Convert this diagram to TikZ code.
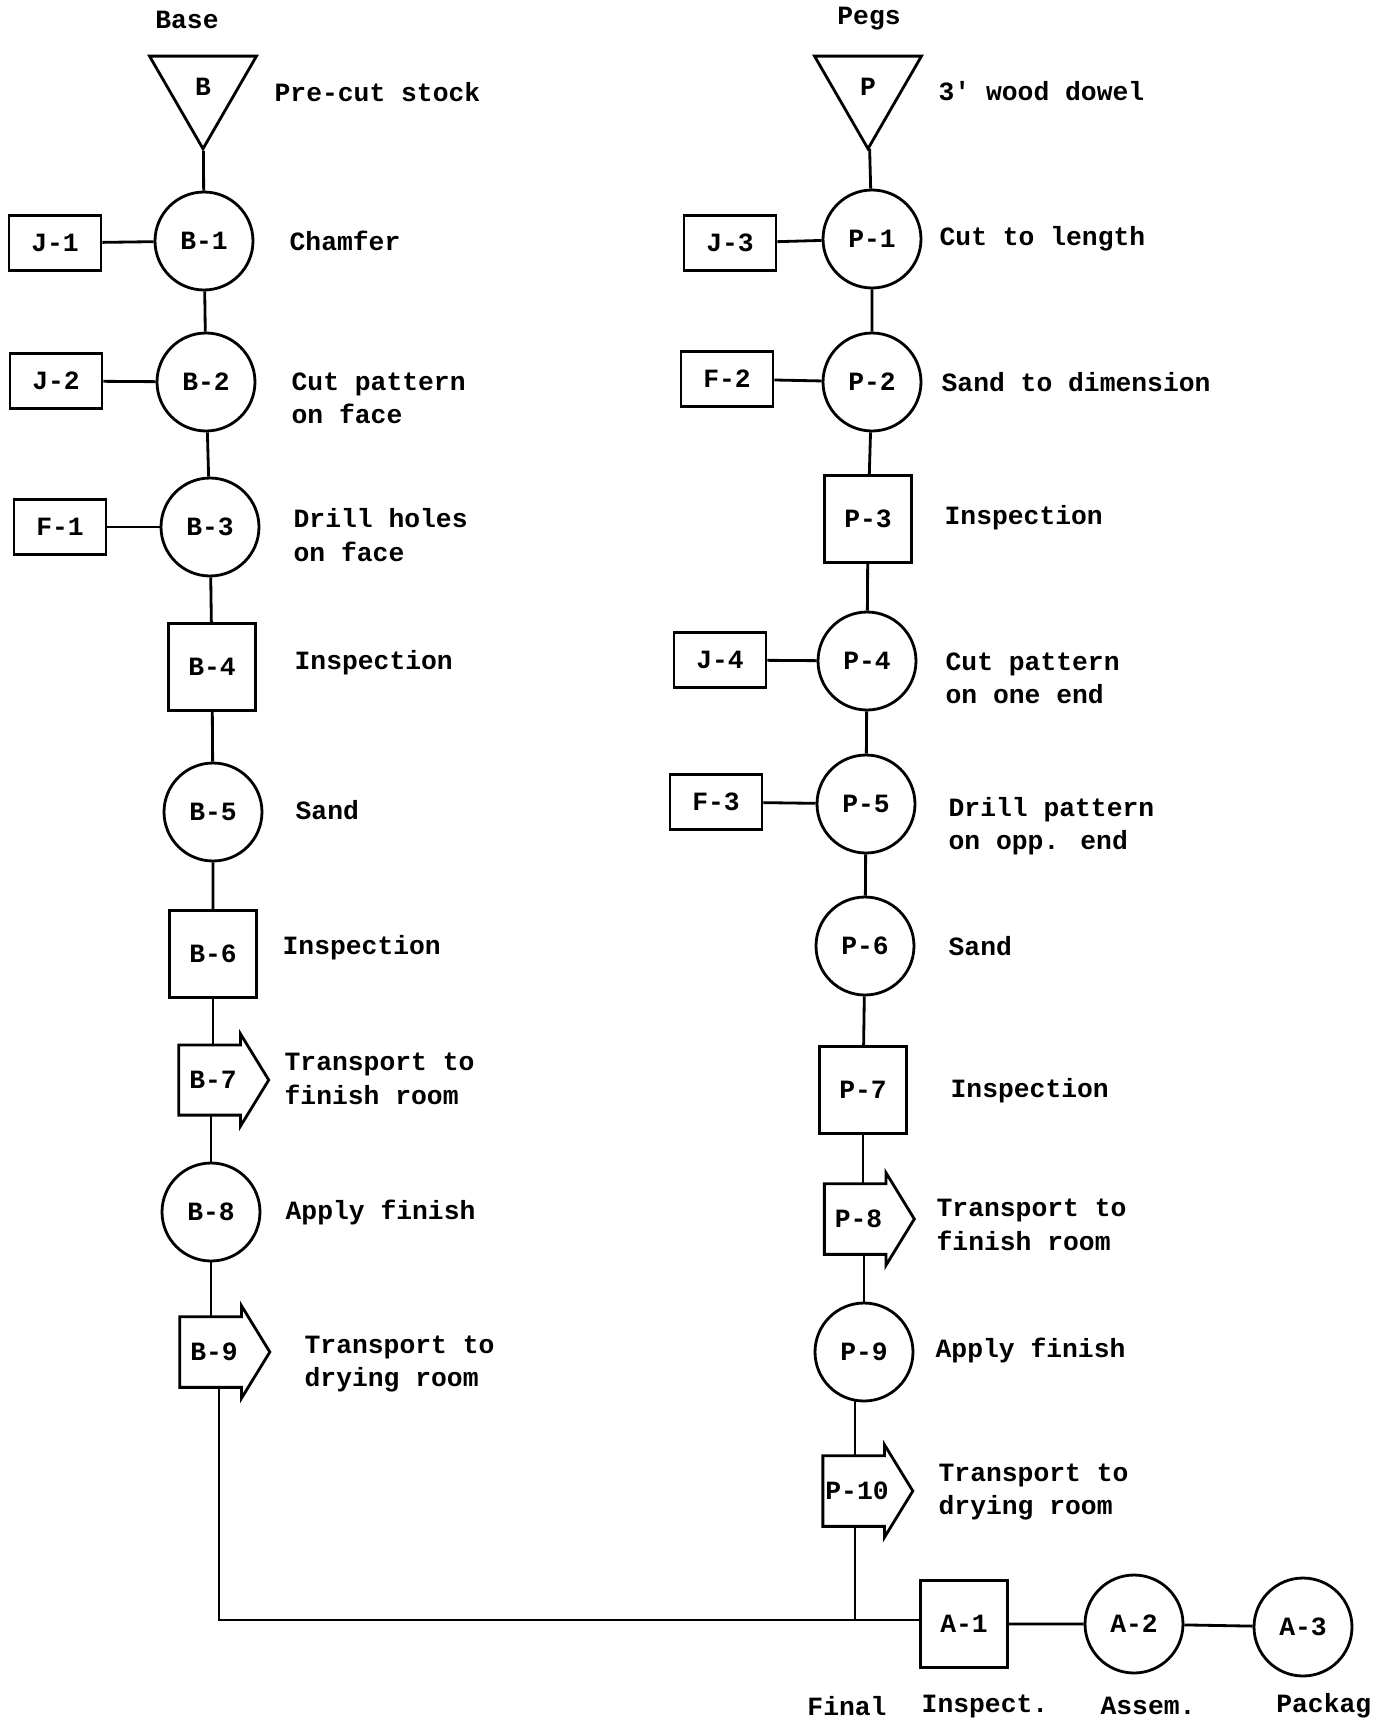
\documentclass[tikz,border=0pt]{standalone}
\usepackage{fontspec}
\setmainfont{Liberation Mono}
\usepackage{tikz}
\usetikzlibrary{shapes.geometric,shapes.arrows,backgrounds}

\begin{document}
\begin{tikzpicture}[x=0.02cm,y=-0.02cm,
  every node/.style={font=\fontsize{15}{19}\selectfont\bfseries},
  op/.style={draw, circle, line width=1.6pt, fill=white,
             minimum size=1.96cm, inner sep=0pt},
  insp/.style={draw, rectangle, line width=1.6pt, fill=white,
               minimum width=1.74cm, minimum height=1.74cm, inner sep=0pt},
  aux/.style={draw, rectangle, line width=1.6pt, fill=white,
              minimum width=1.84cm, minimum height=1.1cm, inner sep=0pt},
  stock/.style={draw, regular polygon, regular polygon sides=3,
                shape border rotate=180, line width=1.6pt, fill=white,
                minimum size=2.47cm, inner sep=0pt},
  move/.style={draw, single arrow, line width=1.6pt, fill=white,
               minimum height=1.8cm, minimum width=1.84cm,
               single arrow head extend=0.22cm, single arrow tip angle=117,
               inner xsep=0pt, inner ysep=0.5cm},
  lbl/.style={anchor=west, align=left, inner xsep=1.3pt},
  link/.style={line width=1.6pt}
]
  \useasboundingbox (0,0) rectangle (1374,1721);

  %% Base line
  \node (base) at (187,20) {Base};
  \node[stock] (B) at (203,87) {B};
  \node[lbl] (tB) at (272,92) {Pre-cut stock};
  \node[aux] (J1) at (55,243) {J-1};
  \node[op]  (B1) at (204,241) {B-1};
  \node[lbl] (t1) at (287,241) {Chamfer};
  \node[aux] (J2) at (56,381) {J-2};
  \node[op]  (B2) at (206,382) {B-2};
  \node[lbl] (t2) at (289,398) {Cut pattern\\on face};
  \node[aux] (F1) at (60,527) {F-1};
  \node[op]  (B3) at (210,527) {B-3};
  \node[lbl] (t3) at (291,535) {Drill holes\\on face};
  \node[insp] (B4) at (212,667) {B-4};
  \node[lbl] (t4) at (292,663) {Inspection};
  \node[op]  (B5) at (213,812) {B-5};
  \node[lbl] (t5) at (293,810) {Sand};
  \node[insp] (B6) at (213,954) {B-6};
  \node[lbl] (t6) at (280,948) {Inspection};
  \node[move] (B7) at (213,1080) {B-7};
  \node[lbl] (t7) at (282,1079) {Transport to\\finish room};
  \node[op]  (B8) at (211,1212) {B-8};
  \node[lbl] (t8) at (283,1212) {Apply finish};
  \node[move] (B9) at (214,1352) {B-9};
  \node[lbl] (t9) at (302,1364) {Transport to\\drying room};
  \coordinate (bl) at (219,1620);

  %% Pegs line
  \node (pegs) at (869,19) {Pegs};
  \node[stock] (P) at (868,87) {P};
  \node[lbl] (tP) at (936,91) {3\textquotesingle{} wood dowel};
  \node[aux] (J3) at (730,243) {J-3};
  \node[op]  (P1) at (872,239) {P-1};
  \node[lbl] (s1) at (937,239) {Cut to length};
  \node[aux] (F2) at (727,379) {F-2};
  \node[op]  (P2) at (872,382) {P-2};
  \node[lbl] (s2) at (939,382) {Sand to dimension};
  \node[insp] (P3) at (868,519) {P-3};
  \node[lbl] (s3) at (942,518) {Inspection};
  \node[aux] (J4) at (720,660) {J-4};
  \node[op]  (P4) at (867,661) {P-4};
  \node[lbl] (s4) at (943,678) {Cut pattern\\on one end};
  \node[aux] (F3) at (716,802) {F-3};
  \node[op]  (P5) at (866,804) {P-5};
  \node[lbl] (s5) at (946,826) {Drill pattern\\on opp. end};
  \node[op]  (P6) at (865,946) {P-6};
  \node[lbl] (s6) at (946,946) {Sand};
  \node[insp] (P7) at (863,1090) {P-7};
  \node[lbl] (s7) at (948,1091) {Inspection};
  \node[move] (P8) at (858.5,1219) {P-8};
  \node[lbl] (s8) at (934,1225) {Transport to\\finish room};
  \node[op]  (P9) at (864,1352) {P-9};
  \node[lbl] (s9) at (933,1350) {Apply finish};
  \node[move] (P10) at (857,1491) {P-10};
  \node[lbl] (s10) at (936,1492) {Transport to\\drying room};
  \coordinate (pj) at (855,1620);

  %% Assembly
  \node[insp] (A1) at (964,1624) {A-1};
  \node[op]   (A2) at (1134,1624) {A-2};
  \node[op]   (A3) at (1303,1627) {A-3};
  \node (fin) at (847,1706) {Final};
  \node (ins) at (985,1706) {Inspect.};
  \node (asm) at (1148,1706) {Assem.};
  \node[anchor=west, inner xsep=0pt] (pkg) at (1276,1706) {Packag};

  \begin{scope}[on background layer]
    \draw[link] (B) -- (B1) -- (B2) -- (B3) -- (B4) -- (B5) -- (B6);
    \draw[link] (B6) -- (B6 |- B7);
    \draw[link] (B8 |- B7) -- (B8) -- (B8 |- B9);
    \draw[link] (bl |- B9) -- (bl) -- (bl -| A1);
    \draw[link] (J1) -- (B1);
    \draw[link] (J2) -- (B2);
    \draw[link] (F1) -- (B3);
    \draw[link] (P) -- (P1) -- (P2) -- (P3) -- (P4) -- (P5) -- (P6) -- (P7);
    \draw[link] (P7) -- (P7 |- P8);
    \draw[link] (P9 |- P8) -- (P9);
    \draw[link] (pj |- P9) -- (pj);
    \draw[link] (J3) -- (P1);
    \draw[link] (F2) -- (P2);
    \draw[link] (J4) -- (P4);
    \draw[link] (F3) -- (P5);
    \draw[link] (A1) -- (A2) -- (A3);
  \end{scope}
\end{tikzpicture}
\end{document}
